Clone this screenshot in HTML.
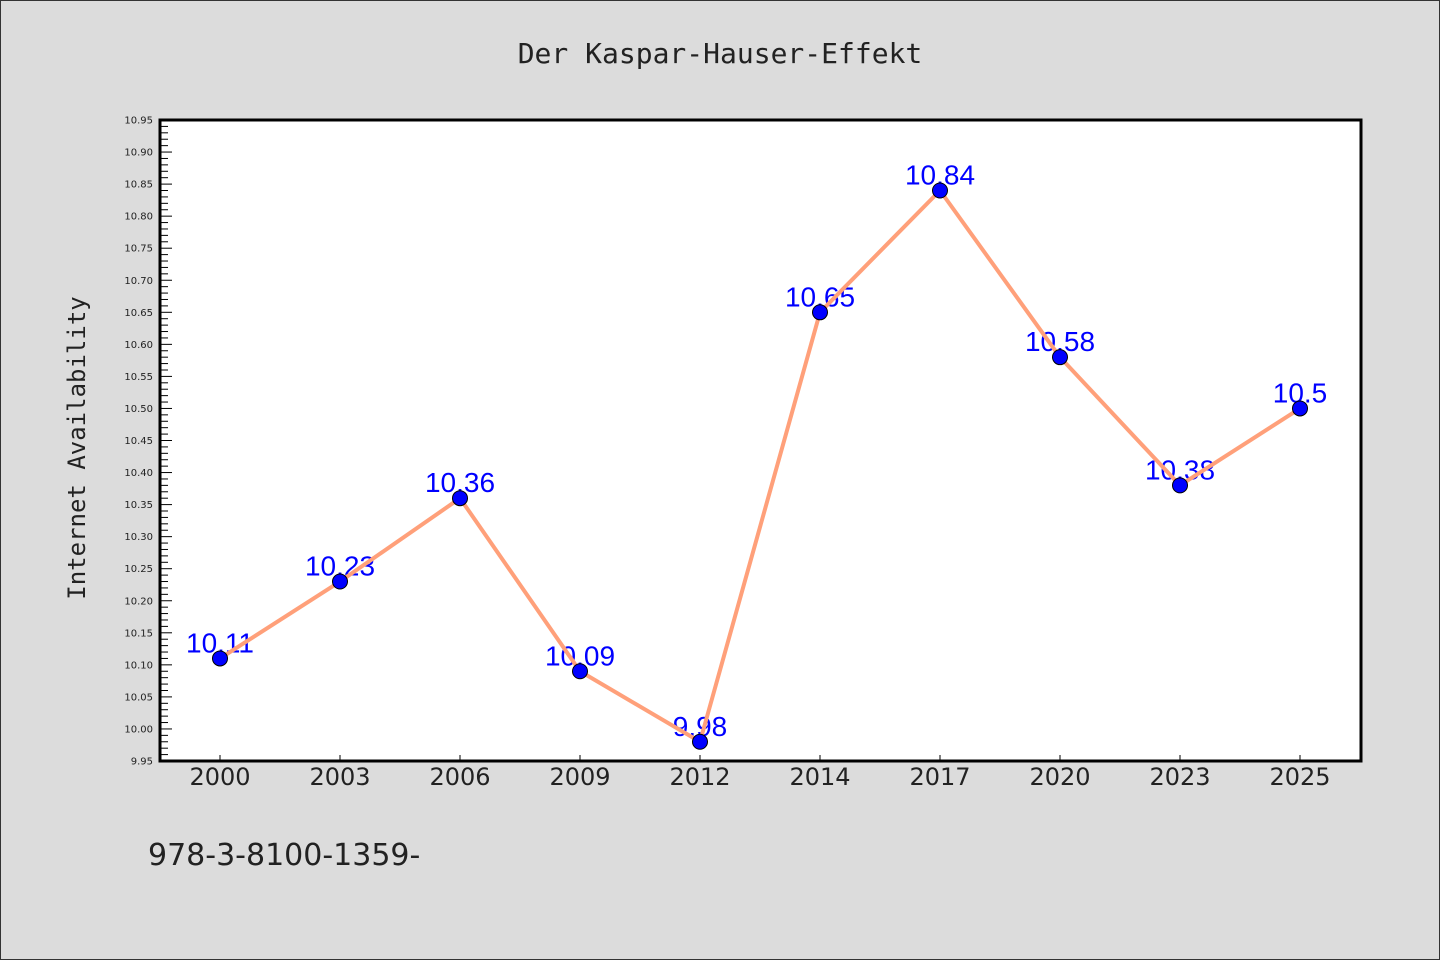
<!DOCTYPE html>
<html><head><meta charset="utf-8"><style>
html,body{margin:0;padding:0;}
body{width:1440px;height:960px;background:#dcdcdc;overflow:hidden;}
svg{display:block;}
</style></head><body>
<svg id="chart" width="1440" height="960" xmlns="http://www.w3.org/2000/svg">
<rect x="0.5" y="0.5" width="1439" height="959" fill="#dcdcdc" stroke="#333" stroke-width="1"/>
<text x="720" y="63" text-anchor="middle" font-family="'DejaVu Sans Mono', monospace" font-size="28" fill="#222">Der Kaspar-Hauser-Effekt</text>
<rect x="160" y="120" width="1201" height="641" fill="#fff"/>
<g id="yticks"></g><g id="xticks"></g><g id="labels"></g><g id="series"></g><g id="markers"></g>
<rect x="160" y="120" width="1201" height="641" fill="none" stroke="#000" stroke-width="3"/>
<text transform="translate(85,448) rotate(-90)" text-anchor="middle" font-family="'DejaVu Sans Mono', monospace" font-size="24" fill="#222">Internet Availability</text>
<text x="148" y="865" font-family="'DejaVu Sans', sans-serif" font-size="30" fill="#222">978-3-8100-1359-</text>
</svg>
<script>
const categories=["2000","2003","2006","2009","2012","2014","2017","2020","2023","2025"];
const values=[10.11,10.23,10.36,10.09,9.98,10.65,10.84,10.58,10.38,10.5];
const valueLabels=["10.11","10.23","10.36","10.09","9.98","10.65","10.84","10.58","10.38","10.5"];
const yMin=9.95,yMax=10.95,yStep=0.05;
const NS="http://www.w3.org/2000/svg";
const L=160,R=1361,T=120,B=761;
const xs=i=>220+i*120;
const ys=v=>B-(v-yMin)/(yMax-yMin)*(B-T);
function mk(tag,attrs,parent,txt){const e=document.createElementNS(NS,tag);for(const k in attrs)e.setAttribute(k,attrs[k]);if(txt!==undefined)e.textContent=txt;document.getElementById(parent).appendChild(e);return e;}
const nMinor=Math.round((yMax-yMin)/0.01);
for(let i=0;i<=nMinor;i++){const v=yMin+i*0.01;const y=ys(v);const major=i%5===0;
 const t=mk('line',{x1:L,x2:L+(major?12:8),y1:y,y2:y,stroke:'#000','stroke-width':1},'yticks');
 
 
 if(major){const lb=mk('text',{x:153,y:y+3.5,'text-anchor':'end','font-family':"'DejaVu Sans',sans-serif",'font-size':10,fill:'#222'},'yticks',v.toFixed(2));
 
 }}
categories.forEach((c,i)=>{const x=xs(i);
 const t=mk('line',{x1:x,x2:x,y1:B,y2:B-6,stroke:'#000','stroke-width':1},'xticks');
 
 
 const lb=mk('text',{x:x,y:785,'text-anchor':'middle','font-family':"'DejaVu Sans',sans-serif",'font-size':24,fill:'#222'},'xticks',c);
 
 
 const vl=mk('text',{x:x,y:ys(values[i])-6,'text-anchor':'middle','font-family':"'Liberation Sans',sans-serif",'font-size':28,fill:'#0000ff'},'labels',valueLabels[i]);
 
 });
const pts=values.map((v,i)=>xs(i)+','+ys(v)).join(' ');
const pl=mk('polyline',{points:pts,fill:'none',stroke:'#ffa07a','stroke-width':4,'stroke-linejoin':'round'},'series');


values.forEach((v,i)=>{const c=mk('circle',{cx:xs(i),cy:ys(v),r:7.5,fill:'#0000ff',stroke:'#000','stroke-width':1},'markers');
 
 });
</script>
</body></html>
